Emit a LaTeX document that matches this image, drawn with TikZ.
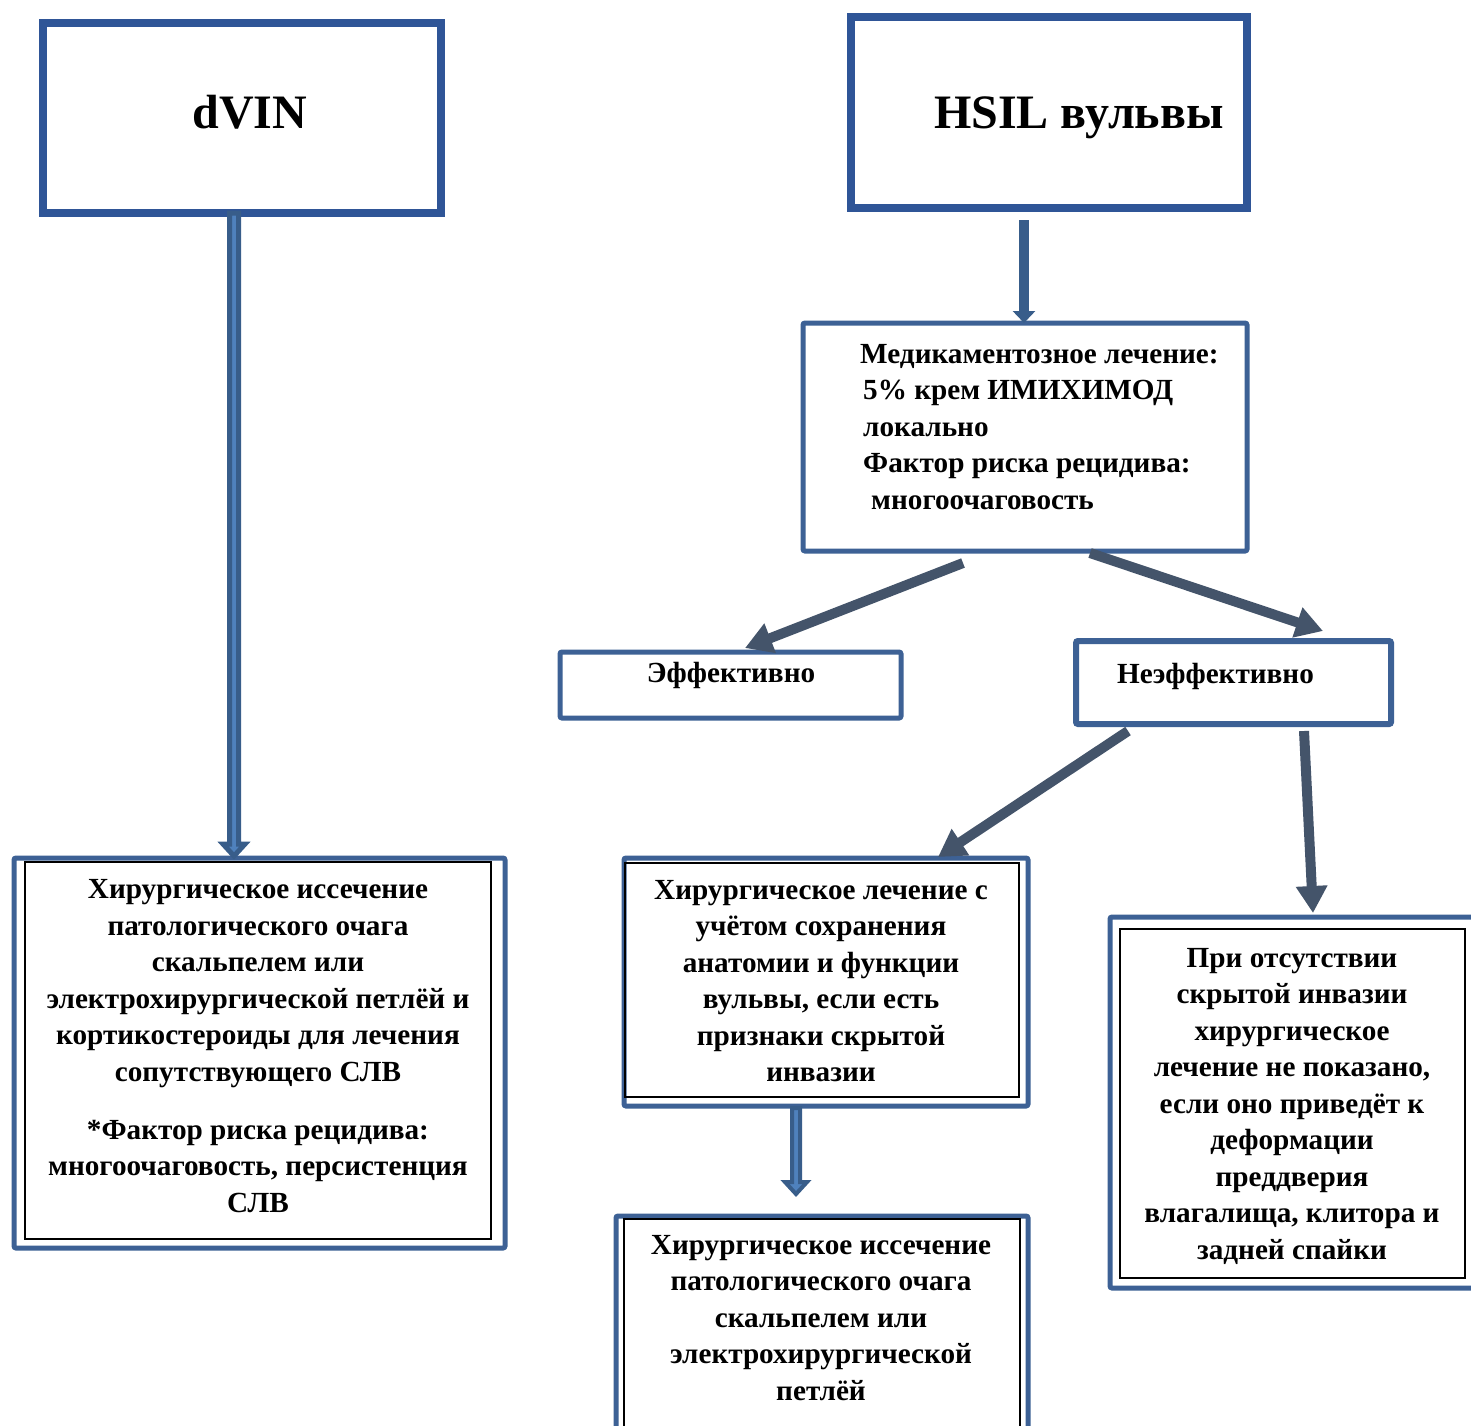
\documentclass[tikz,border=0pt]{standalone}
\usepackage{fontspec}
\setmainfont{Liberation Serif}
\usetikzlibrary{arrows.meta,fit,calc}
\definecolor{tb}{HTML}{2F5597}
\definecolor{bb}{HTML}{3D6195}
\definecolor{ar}{HTML}{44546A}
\definecolor{vd}{HTML}{385D8A}
\definecolor{vl}{HTML}{4F81BD}
\tikzset{
  tbox/.style={draw=tb, line width=8pt, inner sep=0pt, outer sep=0pt},
  sbox/.style={draw=bb, line width=5pt, rounded corners=2pt, inner sep=0pt, outer sep=0pt},
  obox/.style={draw=bb, line width=5pt, rounded corners=2pt, inner sep=0pt, outer sep=0pt},
  ibox/.style={draw=black, line width=1.2pt, inner sep=0pt, outer sep=0pt},
  body/.style={font=\bfseries\fontsize{29.2}{36.5}\selectfont, align=center, inner sep=0pt},
  ttl/.style={font=\bfseries\fontsize{48}{56}\selectfont, inner sep=0pt},
  sarr/.style={draw=ar, line width=10pt, -{Triangle[length=27pt,width=30pt]}},
  varr/.style={draw=vd, line width=10pt, -{Triangle[length=12pt,width=22pt]}},
  blk/.style={draw=vd, fill=vl, line join=miter}
}
\begin{document}
\begin{tikzpicture}[x=1pt,y=-1pt]
\useasboundingbox (0,0) rectangle (1471,1425);
\clip (0,0) rectangle (1471,1425);
\fill[white] (0,0) rectangle (1471,1425);

% title boxes
\node[tbox, fit={(43,22.5) (441,213)}] (dvin) {};
\node[tbox, fit={(851,16.7) (1247,208)}] (hsil) {};
\node[ttl, anchor=base] (t1) at (250,128) {dVIN};
\node[ttl, anchor=base west] (t2) at (934,128) {HSIL вульвы};

% medication box
\node[sbox, fit={(803,323) (1247,551)}] (med) {};
\node[body, align=left, anchor=base west] (mtxt) at (860,509)
 {Медикаментозное лечение:\\ \hspace*{3pt}5\% крем ИМИХИМОД\\ \hspace*{3pt}локально\\ \hspace*{3pt}Фактор риска рецидива:\\ \hspace*{11pt}многоочаговость};

% effective / ineffective
\node[sbox, fit={(560,652) (901,718)}] (eff) {};
\node[body, anchor=base] (efft) at (731,682) {Эффективно};
\node[sbox, line width=6pt, fit={(1076,641) (1391,724)}] (neff) {};
\node[body, anchor=base west] (nefft) at (1117,683) {Неэффективно};

% left surgical box
\node[obox, fit={(14,858) (505,1248)}] (lsurg) {};
\node[ibox, fit={(25,862) (491,1239)}] (lsurgi) {};
\node[body, anchor=base] (ltxt) at (258,1212)
 {Хирургическое иссечение\\ патологического очага\\ скальпелем или\\ электрохирургической петлёй и\\ кортикостероиды для лечения\\ сопутствующего СЛВ\\[21.5pt] *Фактор риска рецидива:\\ многоочаговость, персистенция\\ СЛВ};

% center surgical box
\node[obox, fit={(624,858) (1028,1106)}] (csurg) {};
\node[ibox, fit={(625,863) (1019,1097)}] (csurgi) {};
\node[body, anchor=base] (ctxt) at (821,1081.5)
 {Хирургическое лечение с\\ учётом сохранения\\ анатомии и функции\\ вульвы, если есть\\ признаки скрытой\\ инвазии};

% bottom box
\node[obox, fit={(616,1216) (1028,1445)}] (bsurg) {};
\node[ibox, fit={(624,1219) (1020,1445)}] (bsurgi) {};
\node[body, anchor=base] (btxt) at (821,1400)
 {Хирургическое иссечение\\ патологического очага\\ скальпелем или\\ электрохирургической\\ петлёй};

% right box
\node[obox, fit={(1110,917) (1485,1288)}] (rbox) {};
\node[ibox, fit={(1120,929) (1465,1278)}] (rboxi) {};
\node[body, anchor=base] (rtxt) at (1292,1259)
 {При отсутствии\\ скрытой инвазии\\ хирургическое\\ лечение не показано,\\ если оно приведёт к\\ деформации\\ преддверия\\ влагалища, клитора и\\ задней спайки};

% connectors
\coordinate (la) at (234,213);
\coordinate (lb) at (la |- lsurg.north);
\draw[blk, line width=5pt] ($(la)+(-4.5,0)$) -- ($(lb)+(-4.5,-14)$) -- ($(lb)+(-11,-14)$)
  -- ($(lb)+(0,-2)$) -- ($(lb)+(11,-14)$) -- ($(lb)+(4.5,-14)$) -- ($(la)+(4.5,0)$) -- cycle;

\coordinate (ca) at (796,1108);
\coordinate (cb) at (796,1196);
\draw[blk, line width=4pt] ($(ca)+(-4,0)$) -- ($(cb)+(-4,-14)$) -- ($(cb)+(-11,-14)$)
  -- ($(cb)+(0,-2)$) -- ($(cb)+(11,-14)$) -- ($(cb)+(4,-14)$) -- ($(ca)+(4,0)$) -- cycle;

\coordinate (ha) at (1024,220);
\draw[varr] (ha) -- (ha |- med.north);

\coordinate (e1) at (963,563);
\coordinate (e2) at (745,648);
\draw[sarr] (e1) -- (e2);
\coordinate (n1) at (1090,553);
\coordinate (n2) at (1323,631);
\draw[sarr] (n1) -- (n2);
\coordinate (c1) at (1128,731);
\coordinate (c2) at (938,857);
\draw[sarr] (c1) -- (c2);
\coordinate (r1) at (1304,731);
\coordinate (r2) at (1313,913);
\draw[sarr] (r1) -- (r2);
\end{tikzpicture}
\end{document}
